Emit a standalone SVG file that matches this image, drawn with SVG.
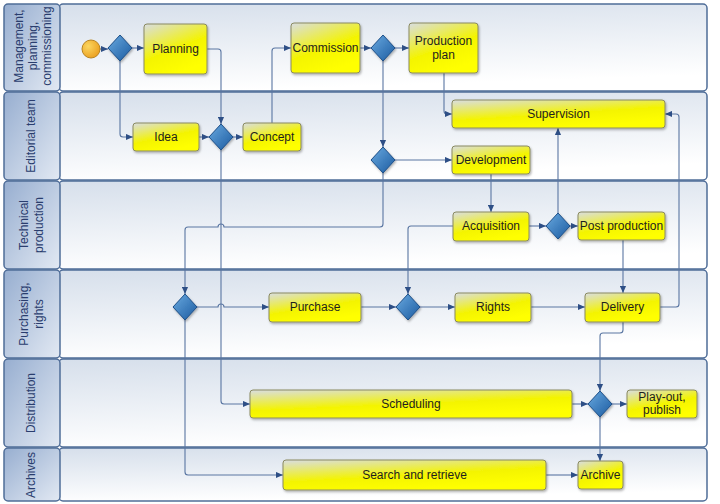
<svg xmlns="http://www.w3.org/2000/svg" width="720" height="504" viewBox="0 0 720 504">
<defs>
<linearGradient id="gBody" x1="0" y1="0" x2="0.25" y2="1">
<stop offset="0" stop-color="#d6dfeb"/><stop offset="1" stop-color="#ffffff"/>
</linearGradient>
<linearGradient id="gHead" x1="0" y1="0" x2="1" y2="1">
<stop offset="0" stop-color="#97aed0"/><stop offset="1" stop-color="#e2e9f3"/>
</linearGradient>
<linearGradient id="gNode" x1="0" y1="0" x2="0.5" y2="1">
<stop offset="0" stop-color="#d9dde2"/><stop offset="0.6" stop-color="#f4f400"/><stop offset="1" stop-color="#ffff00"/>
</linearGradient>
<linearGradient id="gDia" x1="0" y1="0" x2="1" y2="1">
<stop offset="0" stop-color="#6aaae0"/><stop offset="1" stop-color="#1a5aa0"/>
</linearGradient>
<radialGradient id="gStart" cx="0.35" cy="0.35" r="0.7">
<stop offset="0" stop-color="#fbd660"/><stop offset="1" stop-color="#eba020"/>
</radialGradient>
<filter id="sh" x="-10%" y="-10%" width="130%" height="140%">
<feDropShadow dx="1" dy="1.5" stdDeviation="1" flood-color="#000" flood-opacity="0.3"/>
</filter>
<marker id="arr" viewBox="0 0 8 8" refX="8" refY="4" markerWidth="7" markerHeight="7" markerUnits="userSpaceOnUse" orient="auto">
<path d="M0,0.5 L8,4 L0,7.5 z" fill="#2e4f86"/>
</marker>
<style>
.body{fill:url(#gBody);stroke:#4f6d98;stroke-width:1.5}
.head{fill:url(#gHead);stroke:#4f6d98;stroke-width:1.5}
.lbl{font-family:"Liberation Sans",Arial,sans-serif;font-size:12px;fill:#2a3d6e;text-anchor:middle}
.node{fill:url(#gNode);stroke:#8a8a60;stroke-width:1;filter:url(#sh)}
.dia{fill:url(#gDia);stroke:#1d4f88;stroke-width:1;stroke-linejoin:round;filter:url(#sh)}
.t{font-family:"Liberation Sans",Arial,sans-serif;font-size:12px;fill:#1e1e1e;text-anchor:middle}
.c{fill:none;stroke:#5a76a2;stroke-width:1.1}
.a{marker-end:url(#arr)}
</style>
</defs>

<g id="lanes">
<rect class="body" x="59" y="4" width="648" height="87" rx="4"/>
<rect class="body" x="59" y="92" width="648" height="88" rx="4"/>
<rect class="body" x="59" y="181" width="648" height="88" rx="4"/>
<rect class="body" x="59" y="270" width="648" height="88" rx="4"/>
<rect class="body" x="59" y="359" width="648" height="88" rx="4"/>
<rect class="body" x="59" y="448" width="648" height="53" rx="4"/>
<rect class="head" x="4" y="4" width="56" height="87" rx="4"/>
<rect class="head" x="4" y="92" width="56" height="88" rx="4"/>
<rect class="head" x="4" y="181" width="56" height="88" rx="4"/>
<rect class="head" x="4" y="270" width="56" height="88" rx="4"/>
<rect class="head" x="4" y="359" width="56" height="88" rx="4"/>
<rect class="head" x="4" y="448" width="56" height="53" rx="4"/>
<text class="lbl" transform="translate(19,46) rotate(-90)" dy="0.35em">Management,</text>
<text class="lbl" transform="translate(33,46) rotate(-90)" dy="0.35em">planning,</text>
<text class="lbl" transform="translate(47,46) rotate(-90)" dy="0.35em">commissioning</text>
<text class="lbl" transform="translate(31,136) rotate(-90)" dy="0.35em">Editorial team</text>
<text class="lbl" transform="translate(24,225) rotate(-90)" dy="0.35em">Technical</text>
<text class="lbl" transform="translate(39,225) rotate(-90)" dy="0.35em">production</text>
<text class="lbl" transform="translate(24,314) rotate(-90)" dy="0.35em">Purchasing,</text>
<text class="lbl" transform="translate(39,314) rotate(-90)" dy="0.35em">rights</text>
<text class="lbl" transform="translate(31,403) rotate(-90)" dy="0.35em">Distribution</text>
<text class="lbl" transform="translate(31,475) rotate(-90)" dy="0.35em">Archives</text>
</g>

<g id="connectors">
<path class="c a" d="M100,49 H108"/>
<path class="c a" d="M132,48 H144"/>
<path class="c a" d="M120,61 V134 Q120,137 123,137 H133"/>
<path class="c a" d="M207,49 H218 Q221,49 221,52 V124"/>
<path class="c a" d="M199,137 H209"/>
<path class="c a" d="M233,137 H243"/>
<path class="c a" d="M272,123 V51 Q272,48 275,48 H291"/>
<path class="c a" d="M360,48 H371"/>
<path class="c a" d="M395,48 H409"/>
<path class="c a" d="M444,73 V111 Q444,114 447,114 H452"/>
<path class="c a" d="M383,61 V147"/>
<path class="c a" d="M395,160 H452"/>
<path class="c a" d="M491,174 V212"/>
<path class="c a" d="M529,226 H546"/>
<path class="c a" d="M570,226 H578"/>
<path class="c a" d="M558,213 V128"/>
<path class="c a" d="M383,173 V224 Q383,227 380,227 H224 A3,3 0 0 0 218,227 H188 Q185,227 185,230 V294"/>
<path class="c a" d="M221,150 V401 Q221,404 224,404 H250"/>
<path class="c a" d="M197,307 H218 A3,3 0 0 1 224,307 H269"/>
<path class="c a" d="M185,320 V472 Q185,475 188,475 H283"/>
<path class="c a" d="M361,307 H396"/>
<path class="c a" d="M453,226 H411 Q408,226 408,229 V294"/>
<path class="c a" d="M420,307 H455"/>
<path class="c a" d="M531,307 H585"/>
<path class="c a" d="M623,240 V293"/>
<path class="c a" d="M660,307 H676 Q679,307 679,304 V117 Q679,114 676,114 H665"/>
<path class="c a" d="M623,322 V330 Q623,333 620,333 H603 Q600,333 600,336 V391"/>
<path class="c a" d="M572,404 H588"/>
<path class="c a" d="M612,404 H627"/>
<path class="c a" d="M600,416 V461"/>
<path class="c a" d="M546,475 H578"/>
</g>

<g id="start"><circle cx="91" cy="49" r="9" fill="url(#gStart)" stroke="#b88420" stroke-width="1"/></g>
<g id="gw1"><polygon class="dia" points="120,35 132,48 120,61 108,48"/></g>
<g id="gw2"><polygon class="dia" points="221,124 233,137 221,150 209,137"/></g>
<g id="gw3"><polygon class="dia" points="383,35 395,48 383,61 371,48"/></g>
<g id="gw4"><polygon class="dia" points="383,147 395,160 383,173 371,160"/></g>
<g id="gw5"><polygon class="dia" points="558,213 570,226 558,239 546,226"/></g>
<g id="gw6"><polygon class="dia" points="185,294 197,307 185,320 173,307"/></g>
<g id="gw7"><polygon class="dia" points="408,294 420,307 408,320 396,307"/></g>
<g id="gw8"><polygon class="dia" points="600,391 612,404 600,417 588,404"/></g>

<g id="planning"><rect class="node" x="144" y="24" width="63" height="50" rx="3"/><text class="t" x="175.5" y="53">Planning</text></g>
<g id="idea"><rect class="node" x="133" y="123" width="66" height="28" rx="3"/><text class="t" x="166" y="141">Idea</text></g>
<g id="concept"><rect class="node" x="243" y="123" width="58" height="28" rx="3"/><text class="t" x="272" y="141">Concept</text></g>
<g id="commission"><rect class="node" x="291" y="23" width="69" height="50" rx="3"/><text class="t" x="325.5" y="52">Commission</text></g>
<g id="productionplan"><rect class="node" x="409" y="23" width="69" height="50" rx="3"/><text class="t" x="443.5" y="45">Production</text><text class="t" x="443.5" y="59">plan</text></g>
<g id="supervision"><rect class="node" x="452" y="100" width="213" height="28" rx="3"/><text class="t" x="558.5" y="118">Supervision</text></g>
<g id="development"><rect class="node" x="452" y="146" width="78" height="28" rx="3"/><text class="t" x="491" y="164">Development</text></g>
<g id="acquisition"><rect class="node" x="453" y="212" width="76" height="29" rx="3"/><text class="t" x="491" y="230">Acquisition</text></g>
<g id="postproduction"><rect class="node" x="578" y="212" width="87" height="28" rx="3"/><text class="t" x="621.5" y="230">Post production</text></g>
<g id="purchase"><rect class="node" x="269" y="293" width="92" height="29" rx="3"/><text class="t" x="315" y="311">Purchase</text></g>
<g id="rights"><rect class="node" x="455" y="293" width="76" height="29" rx="3"/><text class="t" x="493" y="311">Rights</text></g>
<g id="delivery"><rect class="node" x="585" y="293" width="75" height="29" rx="3"/><text class="t" x="622.5" y="311">Delivery</text></g>
<g id="scheduling"><rect class="node" x="250" y="390" width="322" height="28" rx="3"/><text class="t" x="411" y="408">Scheduling</text></g>
<g id="playout"><rect class="node" x="627" y="390" width="70" height="28" rx="3"/><text class="t" x="662" y="401">Play-out,</text><text class="t" x="662" y="414">publish</text></g>
<g id="search"><rect class="node" x="283" y="460" width="263" height="30" rx="3"/><text class="t" x="414.5" y="479">Search and retrieve</text></g>
<g id="archive"><rect class="node" x="578" y="461" width="45" height="28" rx="3"/><text class="t" x="600.5" y="479">Archive</text></g>
</svg>
